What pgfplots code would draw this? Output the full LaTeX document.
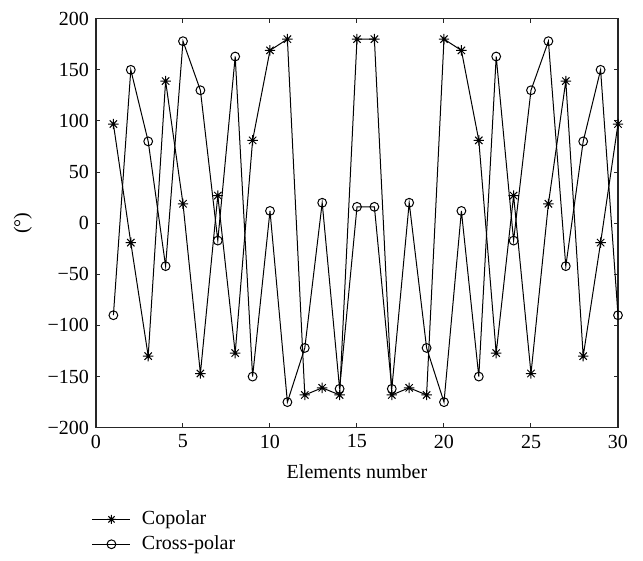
\documentclass[border=0pt]{standalone}
\usepackage{pgfplots}
\pgfplotsset{compat=1.18}
\usepackage{fontspec}
\setmainfont{Liberation Serif}
\pgfdeclareplotmark{ast8}{%
  \pgfpathmoveto{\pgfqpoint{-\pgfplotmarksize}{0pt}}\pgfpathlineto{\pgfqpoint{\pgfplotmarksize}{0pt}}%
  \pgfpathmoveto{\pgfqpoint{0pt}{-\pgfplotmarksize}}\pgfpathlineto{\pgfqpoint{0pt}{\pgfplotmarksize}}%
  \pgfpathmoveto{\pgfqpoint{-0.707\pgfplotmarksize}{-0.707\pgfplotmarksize}}\pgfpathlineto{\pgfqpoint{0.707\pgfplotmarksize}{0.707\pgfplotmarksize}}%
  \pgfpathmoveto{\pgfqpoint{-0.707\pgfplotmarksize}{0.707\pgfplotmarksize}}\pgfpathlineto{\pgfqpoint{0.707\pgfplotmarksize}{-0.707\pgfplotmarksize}}%
  \pgfusepathqstroke}
\begin{document}
\begin{tikzpicture}
\path (-48pt,-65.15pt) rectangle (273.5pt,213.85pt);
\begin{axis}[
  at={(0,0)}, anchor=south west,
  scale only axis, width=261pt, height=204.5pt,
  xmin=0, xmax=30, ymin=-200, ymax=200,
  xtick={0,5,...,30},
  ytick={-200,-150,...,200},
  yticklabels={−200,−150,−100,−50,0,50,100,150,200},
  xticklabels={0,5,10,15,20,25,30},
  tick align=inside, tick pos=both,
  major tick length=2.2pt,
  axis line style={line width=0.6pt, black!85},
  tick style={line width=0.5pt, black!85},
  font=\fontsize{10}{12}\selectfont,
  xlabel={Elements number},
  ylabel={(°)},
  xlabel style={at={(axis description cs:0.5,-0.1076)}, anchor=center},
  ylabel style={at={(axis description cs:-0.14,0.5)}, anchor=center},
  legend style={at={(axis description cs:-0.02,-0.183)}, anchor=north west, draw=none, fill=none, font=\fontsize{10}{12}\selectfont, row sep=0pt},
  legend cell align=left,
  legend image code/.code={\draw[mark repeat=2,mark phase=2,mark size=2.2pt] plot coordinates {(0pt,0pt)(9.5pt,0pt)(19pt,0pt)};},
]
\addplot[black, line width=0.5pt, mark=ast8, mark size=2.6pt, mark options={line width=0.5pt}] coordinates {
(1,97) (2,-19) (3,-130) (4,139) (5,19) (6,-147) (7,27) (8,-127) (9,81) (10,169)
(11,180) (12,-168) (13,-161) (14,-168) (15,180) (16,180) (17,-168) (18,-161) (19,-168) (20,180)
(21,169) (22,81) (23,-127) (24,27) (25,-147) (26,19) (27,139) (28,-130) (29,-19) (30,97)};
\addlegendentry{\hspace{3.5pt}Copolar}
\addplot[black, line width=0.5pt, mark=o, mark size=2.2pt, mark options={line width=0.5pt}] coordinates {
(1,-90) (2,150) (3,80) (4,-42) (5,178) (6,130) (7,-17) (8,163) (9,-150) (10,12)
(11,-175) (12,-122) (13,20) (14,-162) (15,16) (16,16) (17,-162) (18,20) (19,-122) (20,-175)
(21,12) (22,-150) (23,163) (24,-17) (25,130) (26,178) (27,-42) (28,80) (29,150) (30,-90)};
\addlegendentry{\hspace{3.5pt}Cross-polar}
\end{axis}
\end{tikzpicture}
\end{document}
